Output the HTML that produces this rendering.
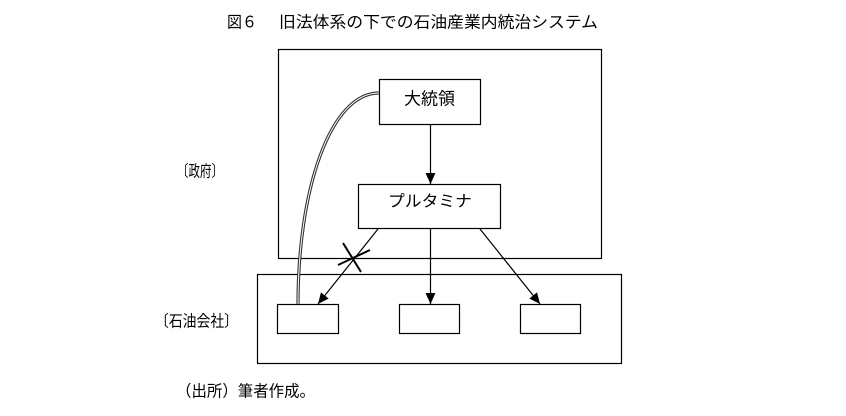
<!DOCTYPE html>
<html><head><meta charset="utf-8"><style>
html,body{margin:0;padding:0;background:#fff;}
svg{display:block;}
text{font-family:"Liberation Sans","Noto Sans CJK JP",sans-serif;font-size:16px;fill:#000;}
</style></head><body>
<svg width="846" height="416" viewBox="0 0 846 416" xmlns="http://www.w3.org/2000/svg">
<defs>
<marker id="ah" markerWidth="11" markerHeight="10" refX="11" refY="5" orient="auto" markerUnits="userSpaceOnUse">
<path d="M0,0 L11,5 L0,10 z" fill="#000"/>
</marker>
</defs>
<text x="227" y="23" dominant-baseline="central" textLength="30" lengthAdjust="spacingAndGlyphs">図６</text>
<text x="279" y="23" dominant-baseline="central" textLength="319" lengthAdjust="spacingAndGlyphs">旧法体系の下での石油産業内統治システム</text>

<rect x="278.5" y="49.5" width="323" height="209" fill="none" stroke="#000" stroke-width="1.2"/>
<rect x="257.5" y="274.5" width="364" height="89" fill="none" stroke="#000" stroke-width="1.2"/>

<rect x="379.5" y="79.5" width="101" height="45" fill="#fff" stroke="#000" stroke-width="1.2"/>
<text x="404" y="99" dominant-baseline="central" textLength="51" lengthAdjust="spacingAndGlyphs" style="font-size:17px">大統領</text>

<rect x="358.5" y="184.5" width="142" height="44" fill="#fff" stroke="#000" stroke-width="1.2"/>
<text x="388" y="202" dominant-baseline="central" textLength="84" lengthAdjust="spacingAndGlyphs">プルタミナ</text>

<rect x="277.5" y="304.5" width="61" height="29" fill="#fff" stroke="#000" stroke-width="1.2"/>
<rect x="399.5" y="304.5" width="60" height="29" fill="#fff" stroke="#000" stroke-width="1.2"/>
<rect x="520.5" y="304.5" width="60" height="29" fill="#fff" stroke="#000" stroke-width="1.2"/>

<line x1="430.5" y1="125" x2="430.5" y2="184" stroke="#000" stroke-width="1.2" marker-end="url(#ah)"/>
<line x1="378" y1="229" x2="318" y2="304" stroke="#000" stroke-width="1.2" marker-end="url(#ah)"/>
<line x1="430.5" y1="229" x2="430.5" y2="304" stroke="#000" stroke-width="1.2" marker-end="url(#ah)"/>
<line x1="480" y1="229" x2="540" y2="304" stroke="#000" stroke-width="1.2" marker-end="url(#ah)"/>

<path d="M379,93 C330,93 298,190 298,304" fill="none" stroke="#333" stroke-width="3.2"/>
<path d="M379,93 C330,93 298,190 298,304" fill="none" stroke="#fff" stroke-width="1"/>

<line x1="343" y1="243" x2="361" y2="272" stroke="#000" stroke-width="2"/>
<line x1="338" y1="265" x2="370" y2="250" stroke="#000" stroke-width="2"/>

<text x="177" y="172" dominant-baseline="central" textLength="46" lengthAdjust="spacingAndGlyphs">〔政府〕</text>
<text x="155" y="322" dominant-baseline="central" textLength="83" lengthAdjust="spacingAndGlyphs">〔石油会社〕</text>
<text x="176" y="392" dominant-baseline="central" textLength="139" lengthAdjust="spacingAndGlyphs">（出所）筆者作成。</text>
</svg>
</body></html>
